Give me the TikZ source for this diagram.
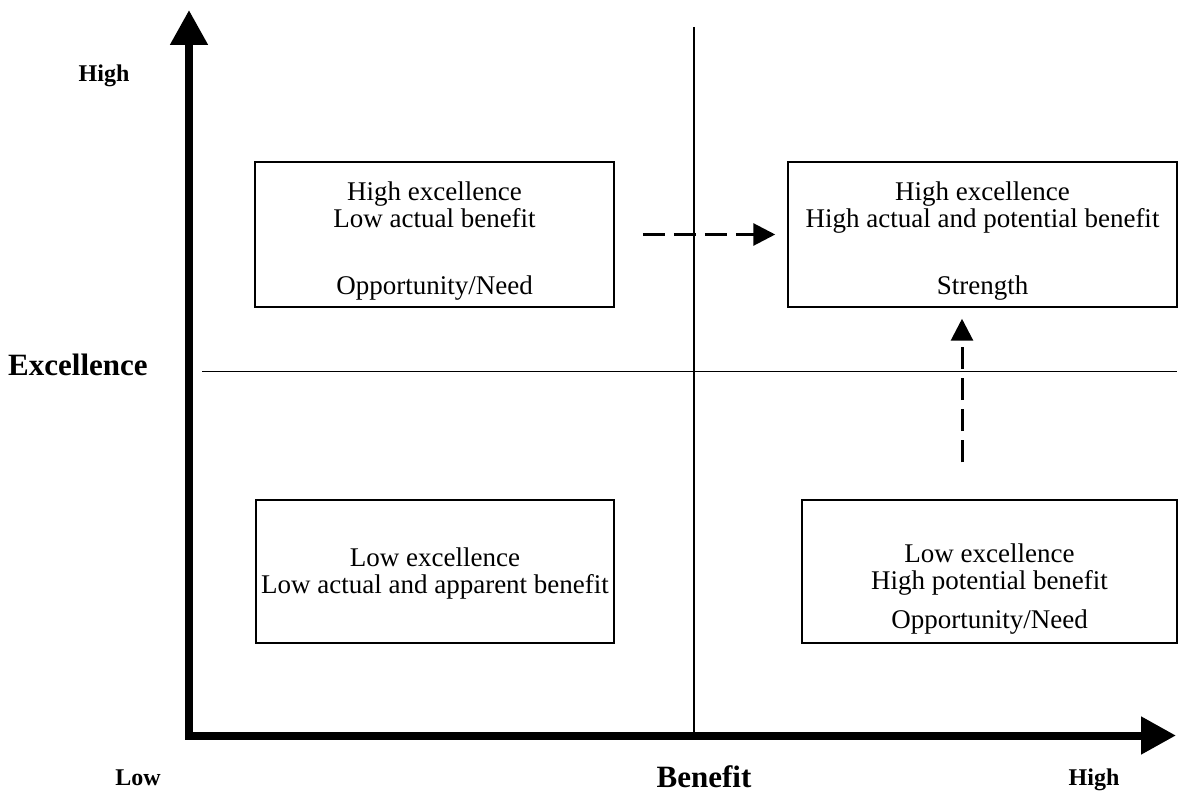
\documentclass[tikz,border=0pt]{standalone}
\usepackage{fontspec}
\setmainfont{Liberation Serif}
\usetikzlibrary{arrows.meta,calc}
\newcommand\qfont{\fontsize{27}{27.5}\selectfont}
\newcommand\lblfont{\fontsize{24}{28}\selectfont\bfseries}
\newcommand\axfont{\fontsize{31}{34}\selectfont\bfseries}
\begin{document}
\begin{tikzpicture}[x=1pt,y=-1pt,
  axis/.style={line width=8pt, line join=miter,
    {Triangle[length=35pt,width=36pt]}-{Triangle[length=35pt,width=36pt]}},
  divider/.style={line width=1.5pt},
  qbox/.style={draw, line width=1.5pt, rectangle, inner sep=0pt},
  qtext/.style={font=\qfont, align=center, inner sep=0pt, anchor=north},
  dasharrow/.style={line width=3pt, dash pattern=on 22pt off 9pt,
    -{Triangle[length=22pt,width=22pt]}},
  lbl/.style={font=\lblfont, inner sep=0pt, anchor=base},
  axlbl/.style={font=\axfont, inner sep=0pt}
]
\useasboundingbox (0,0) rectangle (1179,794);

% axes
\coordinate (ytop) at (189,10);
\coordinate (origin) at (189,735.5);
\coordinate (xend) at (1176,735.5);
\draw[axis] (ytop) -- (origin) -- (xend);

% dividers
\coordinate (vtop) at (694,27);
\coordinate (vbot) at (694,732);
\coordinate (hleft) at (202,371.5);
\coordinate (hright) at (1177,371.5);
\draw[divider] (vtop) -- (vbot);
\draw[divider] (hleft) -- (hright);

% quadrant boxes
\node[qbox, minimum width=359pt, minimum height=145pt] (tl) at (434.5,234.5) {};
\node[qbox, minimum width=389pt, minimum height=145pt] (tr) at (982.5,234.5) {};
\node[qbox, minimum width=358pt, minimum height=143pt] (bl) at (435,571.5) {};
\node[qbox, minimum width=375pt, minimum height=143pt] (br) at (989.5,571.5) {};

\node[qtext] (tltext) at ($(tl.north)+(0,20)$) {High excellence\\Low actual benefit\\[39pt]Opportunity/Need};
\node[qtext] (trtext) at ($(tr.north)+(0,20)$) {High excellence\\High actual and potential benefit\\[39pt]Strength};
\node[qtext] (bltext) at ($(bl.north)+(0,48)$) {Low excellence\\Low actual and apparent benefit};
\node[qtext] (brtext) at ($(br.north)+(0,44)$) {Low excellence\\High potential benefit\\[11pt]Opportunity/Need};

% dashed arrows
\draw[dasharrow] ($(tl.east)+(28,0)$) -- ($(tr.west)+(-12,0)$);
\coordinate (vstart) at ($(br.north)+(-27.5,-37)$);
\coordinate (vend) at ($(tr.south)+(-20.5,11)$);
\draw[dasharrow] (vstart) -- (vend);

% labels
\node[lbl] (yhigh) at (104,82) {High};
\node[lbl] (xlow) at (138,785) {Low};
\node[lbl] (xhigh) at (1094,785) {High};
\node[axlbl, anchor=base west] (ylabel) at (8,376) {Excellence};
\node[axlbl, anchor=base] (xlabel) at (704,787) {Benefit};
\end{tikzpicture}
\end{document}
